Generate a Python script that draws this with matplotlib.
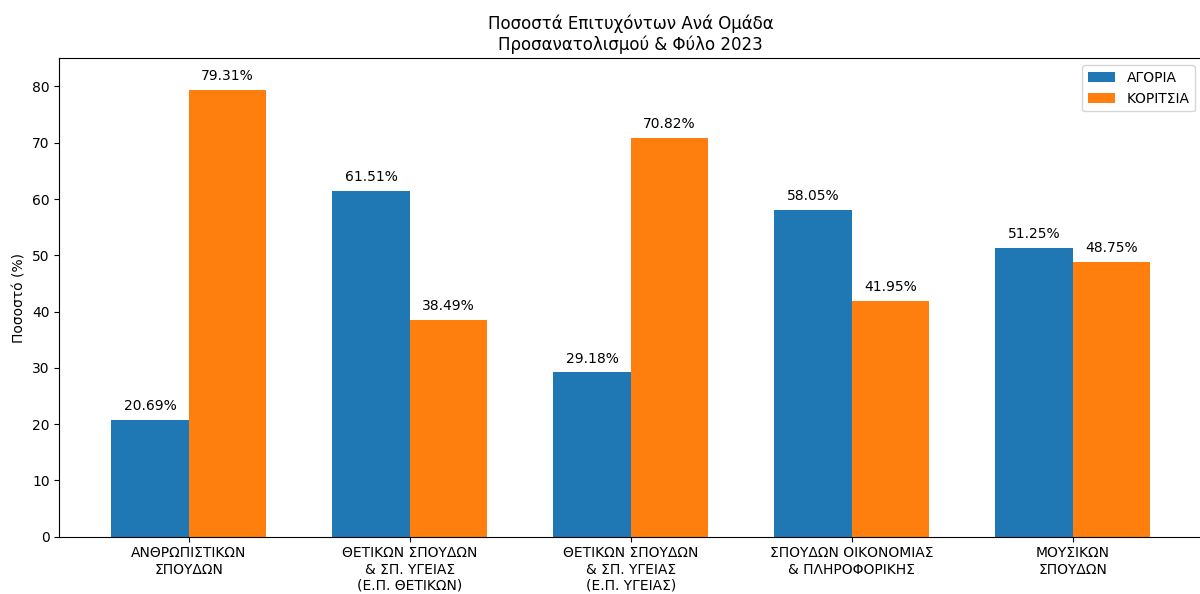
import matplotlib
matplotlib.use("Agg")
import matplotlib.pyplot as plt
import numpy as np

categories = ["ΑΝΘΡΩΠΙΣΤΙΚΩΝ\nΣΠΟΥΔΩΝ",
              "ΘΕΤΙΚΩΝ ΣΠΟΥΔΩΝ\n& ΣΠ. ΥΓΕΙΑΣ\n(Ε.Π. ΘΕΤΙΚΩΝ)",
              "ΘΕΤΙΚΩΝ ΣΠΟΥΔΩΝ\n& ΣΠ. ΥΓΕΙΑΣ\n(Ε.Π. ΥΓΕΙΑΣ)",
              "ΣΠΟΥΔΩΝ ΟΙΚΟΝΟΜΙΑΣ\n& ΠΛΗΡΟΦΟΡΙΚΗΣ",
              "ΜΟΥΣΙΚΩΝ\nΣΠΟΥΔΩΝ"]
boys = [20.69, 61.51, 29.18, 58.05, 51.25]
girls = [79.31, 38.49, 70.82, 41.95, 48.75]

fig = plt.figure(figsize=(12, 5.94), dpi=100)
W, H = 1200.0, 594.0
left, right, top, bottom = 59.3, 1202.0, 58.3, 536.7
ax = fig.add_axes([left / W, 1 - bottom / H, (right - left) / W, (bottom - top) / H])
x = np.arange(len(categories))
w = 0.35
b1 = ax.bar(x - w/2, boys, w, label="ΑΓΟΡΙΑ", color="#1f77b4")
b2 = ax.bar(x + w/2, girls, w, label="ΚΟΡΙΤΣΙΑ", color="#ff7f0e")
ax.bar_label(b1, labels=[f"{v:.2f}%" for v in boys], padding=5)
ax.bar_label(b2, labels=[f"{v:.2f}%" for v in girls], padding=5)
ax.set_xticks(x)
ax.set_xticklabels(categories)
ax.set_ylabel("Ποσοστό (%)")
ax.set_title("Ποσοστά Επιτυχόντων Ανά Ομάδα\nΠροσανατολισμού & Φύλο 2023")
ax.set_ylim(0, 85)
ax.legend(loc="upper right")
fig.savefig("out.png", dpi=100)
